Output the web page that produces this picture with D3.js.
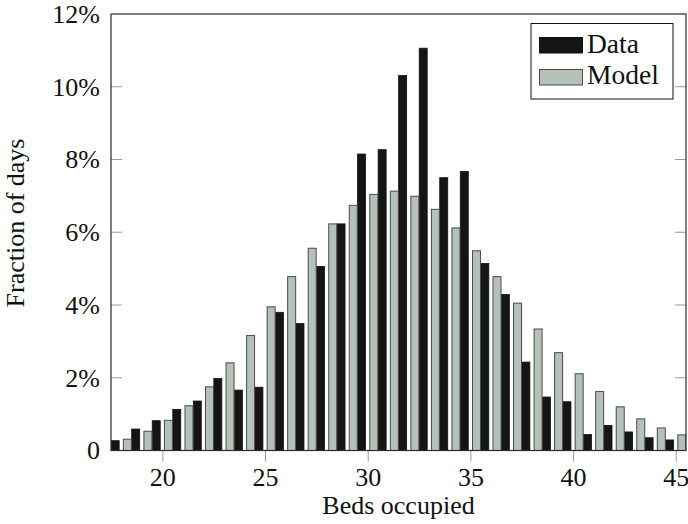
<!DOCTYPE html>
<html>
<head>
<meta charset="utf-8">
<script src="https://cdn.jsdelivr.net/npm/d3@7"></script>
<style>
  body { margin: 0; background: #fff; }
  svg text { font-family: "Liberation Serif", "Times New Roman", serif; fill: #111; }
</style>
</head>
<body>
<svg id="chart" width="688" height="524"></svg>
<script>
// beds occupied, one pair of bars per value
const beds = d3.range(18, 46);
// fraction of days (%)
const dataValues = [0.27, 0.59, 0.82, 1.13, 1.36, 1.98, 1.66, 1.74, 3.80, 3.49,
  5.06, 6.23, 8.15, 8.27, 10.31, 11.06, 7.50, 7.67, 5.14, 4.29,
  2.43, 1.47, 1.34, 0.44, 0.69, 0.51, 0.35, 0.29];
const modelValues = [0.31, 0.53, 0.83, 1.23, 1.75, 2.41, 3.16, 3.95, 4.78, 5.56,
  6.23, 6.74, 7.04, 7.13, 6.99, 6.63, 6.12, 5.49, 4.78, 4.05,
  3.34, 2.69, 2.11, 1.62, 1.20, 0.87, 0.62, 0.43];
const xTicks = [20, 25, 30, 35, 40, 45];
const yTicks = [0, 2, 4, 6, 8, 10, 12];

const plotLeft = 111, plotRight = 686, plotTop = 14, plotBottom = 450.5;
const barW = 8, shift = 6.1;

const svg = d3.select('#chart');

const x = d3.scaleLinear().domain([17.5, 45.5]).range([plotLeft, plotRight]);
const y = d3.scaleLinear().domain([0, 12]).range([plotBottom, plotTop]);

svg.append('defs').append('clipPath').attr('id', 'plot-clip')
  .append('rect')
  .attr('x', plotLeft).attr('y', plotTop)
  .attr('width', plotRight - plotLeft).attr('height', plotBottom - plotTop);

const bars = svg.append('g').attr('clip-path', 'url(#plot-clip)');

bars.selectAll('rect.data')
  .data(beds.map((b, i) => ({ b, v: dataValues[i] })))
  .join('rect')
  .classed('data', true)
  .attr('x', d => x(d.b) - shift - barW / 2)
  .attr('y', d => y(d.v))
  .attr('width', barW)
  .attr('height', d => y(0) - y(d.v))
  .attr('fill', '#151515')
  .attr('stroke', '#111')
  .attr('stroke-width', 0.8);

bars.selectAll('rect.model')
  .data(beds.map((b, i) => ({ b, v: modelValues[i] })))
  .join('rect')
  .classed('model', true)
  .attr('x', d => x(d.b) + shift - barW / 2)
  .attr('y', d => y(d.v))
  .attr('width', barW)
  .attr('height', d => y(0) - y(d.v))
  .attr('fill', '#b4c1b8')
  .attr('stroke', '#4a4a4a')
  .attr('stroke-width', 1);

// ticks: left/right inward, bottom outward
const tickColor = '#9a9a9a';
svg.append('g').selectAll('line')
  .data(yTicks.slice(1, -1))
  .join('line')
  .attr('x1', plotLeft).attr('x2', plotLeft + 11)
  .attr('y1', d => y(d)).attr('y2', d => y(d))
  .attr('stroke', tickColor).attr('stroke-width', 1);
svg.append('g').selectAll('line')
  .data(yTicks.slice(1, -1))
  .join('line')
  .attr('x1', plotRight - 11).attr('x2', plotRight)
  .attr('y1', d => y(d)).attr('y2', d => y(d))
  .attr('stroke', tickColor).attr('stroke-width', 1);

const xAxis = d3.axisBottom(x).tickValues(xTicks).tickSize(11).tickPadding(6)
  .tickFormat(d3.format('d'));
const gx = svg.append('g').attr('transform', `translate(0,${plotBottom})`).call(xAxis);
gx.select('.domain').remove();
gx.selectAll('.tick line').attr('stroke', tickColor);
gx.selectAll('.tick text')
  .attr('font-size', 26)
  .attr('fill', '#111')
  .attr('font-family', '"Liberation Serif", "Times New Roman", serif');

const yAxis = d3.axisLeft(y).tickValues(yTicks).tickSize(0).tickPadding(11)
  .tickFormat(d => d === 0 ? '0' : d + '%');
const gy = svg.append('g').attr('transform', `translate(${plotLeft},0)`).call(yAxis);
gy.select('.domain').remove();
gy.selectAll('.tick text')
  .attr('font-size', 26)
  .attr('fill', '#111')
  .attr('font-family', '"Liberation Serif", "Times New Roman", serif');

// frame
svg.append('rect')
  .attr('x', plotLeft).attr('y', plotTop)
  .attr('width', plotRight - plotLeft).attr('height', plotBottom - plotTop)
  .attr('fill', 'none')
  .attr('stroke', '#2a2a2a')
  .attr('stroke-width', 1.2);

// axis titles
svg.append('text')
  .attr('x', (plotLeft + plotRight) / 2).attr('y', 514)
  .attr('text-anchor', 'middle')
  .attr('font-size', 26)
  .text('Beds occupied');
svg.append('text')
  .attr('transform', 'translate(24,223) rotate(-90)')
  .attr('text-anchor', 'middle')
  .attr('font-size', 26)
  .text('Fraction of days');

// legend
const legend = svg.append('g');
legend.append('rect')
  .attr('x', 531).attr('y', 23.5).attr('width', 142).attr('height', 75.5)
  .attr('fill', '#fff').attr('stroke', '#111').attr('stroke-width', 1);
const items = [
  { name: 'Data', fill: '#151515', stroke: '#111' },
  { name: 'Model', fill: '#b4c1b8', stroke: '#4a4a4a' }
];
items.forEach((it, i) => {
  legend.append('rect')
    .attr('x', 539.5).attr('y', 37.5 + i * 32)
    .attr('width', 43).attr('height', 15.5)
    .attr('fill', it.fill).attr('stroke', it.stroke).attr('stroke-width', 1);
  legend.append('text')
    .attr('x', 587).attr('y', 52.5 + i * 31.5)
    .attr('font-size', 27.5)
    .text(it.name);
});
</script>
</body>
</html>
